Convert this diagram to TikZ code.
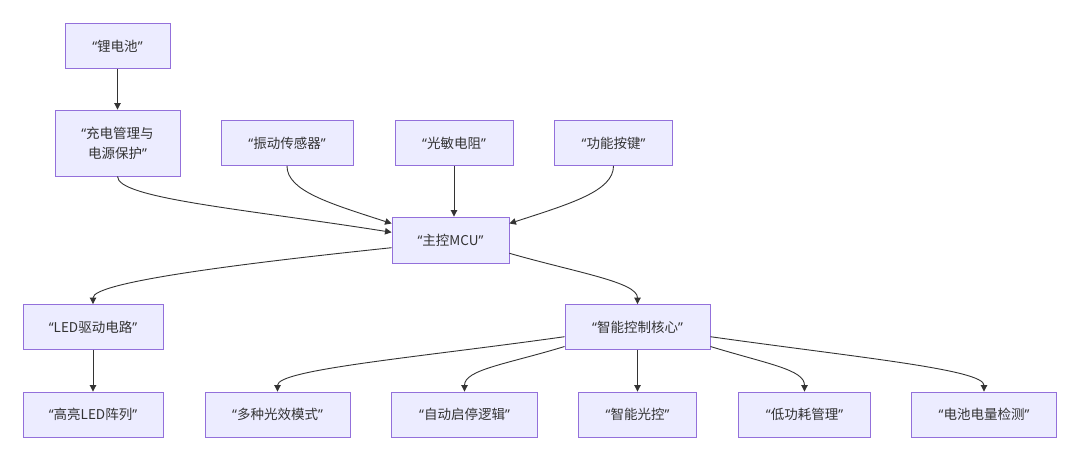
\documentclass[tikz,border=0pt]{standalone}
\usepackage{fontspec}
\setmainfont{Noto Sans CJK SC}
\newfontfamily\qfont{Noto Sans}
\usetikzlibrary{arrows.meta}
\definecolor{boxfill}{HTML}{ECECFF}
\definecolor{boxdraw}{HTML}{9370DB}
\definecolor{linec}{HTML}{333333}
\definecolor{txtc}{HTML}{333333}
\newcommand{\qt}[1]{{\qfont “}#1{\qfont ”}}
\begin{document}
\begin{tikzpicture}[x=1pt,y=1pt,
 box/.style={draw=boxdraw, fill=boxfill, line width=0.9pt, text=txtc,
   font=\fontsize{13.5}{20}\selectfont, inner sep=0pt, minimum height=45pt, align=center},
 link/.style={draw=linec, line width=0.9pt, -{Triangle[length=6.5pt,width=6.5pt]}}]
\useasboundingbox (0,0) rectangle (1080,-461);
\fill[white] (0,0) rectangle (1080,-461);
% nodes
\node[box, minimum width=105pt] (lion) at (117.5,-46) {\qt{锂电池}};
\node[box, minimum width=125pt, minimum height=66pt] (chg) at (117.5,-143) {\qt{充电管理与\\电源保护}};
\node[box, minimum width=132pt] (vib) at (287,-143) {\qt{振动传感器}};
\node[box, minimum width=118pt] (ldr) at (454,-143) {\qt{光敏电阻}};
\node[box, minimum width=118.5pt] (key) at (613.5,-143) {\qt{功能按键}};
\node[box, minimum width=117pt, minimum height=46pt] (mcu) at (450.5,-240) {\qt{主控MCU}};
\node[box, minimum width=140pt] (drv) at (93,-327) {\qt{LED驱动电路}};
\node[box, minimum width=145pt] (core) at (637.5,-327) {\qt{智能控制核心}};
\node[box, minimum width=140pt] (arr) at (93,-414.5) {\qt{高亮LED阵列}};
\node[box, minimum width=145pt] (fx) at (277.5,-414.5) {\qt{多种光效模式}};
\node[box, minimum width=146pt] (auto) at (464.5,-414.5) {\qt{自动启停逻辑}};
\node[box, minimum width=118pt] (lc) at (637.5,-414.5) {\qt{智能光控}};
\node[box, minimum width=132pt] (lp) at (804.5,-414.5) {\qt{低功耗管理}};
\node[box, minimum width=145pt] (bat) at (984,-414.5) {\qt{电池电量检测}};
% edges
\draw[link] (lion.south) -- (chg.north);
\draw[link] (chg.south) to[out=-90,in=171,out distance=22pt,in distance=150pt] ([yshift=7.7pt]mcu.west);
\draw[link] (vib.south) to[out=-90,in=162,out distance=25pt,in distance=65pt] ([yshift=16.5pt]mcu.west);
\draw[link] (ldr.south) -- (ldr.south |- mcu.north);
\draw[link] (key.south) to[out=-90,in=18,out distance=25pt,in distance=65pt] ([yshift=16.5pt]mcu.east);
\draw[link] ([yshift=-7.7pt]mcu.west) to[out=186,in=90,out distance=150pt,in distance=22pt] (drv.north);
\draw[link] ([yshift=-13.3pt]mcu.east) to[out=-16,in=90,out distance=70pt,in distance=22pt] (core.north);
\draw[link] (drv.south) -- (arr.north);
\draw[link] ([yshift=-9.7pt]core.west) to[out=188,in=90,out distance=150pt,in distance=22pt] (fx.north);
\draw[link] ([yshift=-19.5pt]core.west) to[out=197,in=90,out distance=60pt,in distance=22pt] (auto.north);
\draw[link] (core.south) -- (core.south |- lc.north);
\draw[link] ([yshift=-19.5pt]core.east) to[out=-17,in=90,out distance=60pt,in distance=22pt] (lp.north);
\draw[link] ([yshift=-9.7pt]core.east) to[out=-8,in=90,out distance=150pt,in distance=22pt] (bat.north);
\end{tikzpicture}
\end{document}
